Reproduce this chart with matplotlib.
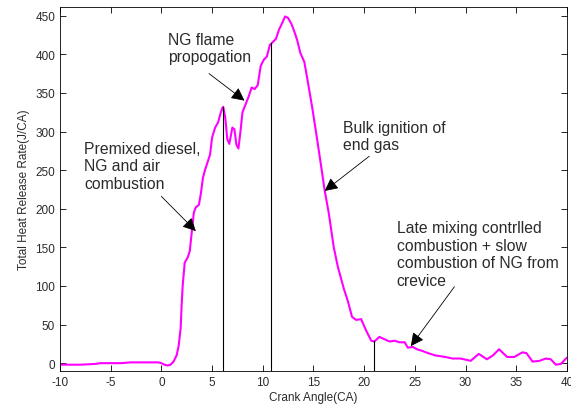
import numpy as np
import matplotlib.pyplot as plt

plt.rcParams['font.family'] = ['Liberation Sans', 'DejaVu Sans']
plt.rcParams['axes.unicode_minus'] = False

# crank angle (deg) and total heat release rate (J/CA)
crank = [-10, -8, -6.5, -6, -4, -3, -1, -0.3, 0, 0.3, 0.6, 0.9, 1.2, 1.5, 1.7, 1.9, 2.0, 2.1, 2.3,
         2.6, 2.8, 3.0, 3.2, 3.4, 3.7, 3.9, 4.1, 4.3, 4.6, 4.8, 5.0, 5.3, 5.6, 5.8, 6.0, 6.1,
         6.3, 6.5, 6.7, 6.9, 7.0, 7.2, 7.4, 7.6, 7.8, 8.0, 8.3, 8.6, 8.9, 9.2, 9.5, 9.8, 10.1,
         10.4, 10.7, 11.0, 11.3, 11.6, 11.9, 12.2, 12.5, 12.8, 13.1, 13.4, 13.7, 14.1, 14.5,
         14.9, 15.3, 15.7, 16.1, 16.5, 17.0, 17.4, 18.0, 18.4, 18.8, 19.2, 19.7, 20.2, 20.7,
         21.0, 21.5, 22.0, 22.5, 23.0, 23.5, 24.0, 24.3, 24.8, 25.2, 25.7, 26.3, 27.0, 28.0,
         28.7, 29.5, 30.5, 31.3, 32.1, 32.7, 33.3, 34.1, 34.8, 35.6, 36.0, 36.6, 37.3, 37.9,
         38.4, 38.9, 39.4, 39.9, 40.0]
hrr = [-2, -2, -1, 0, 0, 1, 1, 1, 0, -2, -3, -2, 2, 10, 22, 45, 75, 100, 130,
       137, 145, 170, 195, 202, 205, 220, 240, 250, 262, 270, 292, 305, 312, 322, 330, 332,
       318, 290, 284, 298, 305, 303, 283, 278, 300, 325, 335, 345, 357, 355, 360, 385, 393,
       397, 412, 416, 420, 432, 440, 449, 447, 440, 430, 418, 402, 390, 360,
       329, 295, 260, 224, 195, 150, 125, 96, 80, 60, 56, 57, 42, 29,
       28, 34, 31, 28, 29, 27, 27, 20, 21, 18, 16, 13, 10, 8,
       6, 6, 3, 12, 5, 10, 18, 8, 8, 14, 13, 2, 3, 6,
       5, -2, -1, 6, 7]

# vertical marker lines (crank angle, height)
marker_x = [6.1, 10.8, 21.0]
marker_top = [332, 414, 29]

txt = '#2b2b2b'

fig = plt.figure(figsize=(5.71, 4.10), dpi=100)
ax = fig.add_axes([0.105, 0.093, 0.888, 0.887])
ax.plot(crank, hrr, color='#ff00ff', lw=1.5)
for mx, mt in zip(marker_x, marker_top):
    ax.plot([mx, mx], [-10, mt], color='black', lw=0.8)

ax.set_xlim(-10, 40)
ax.set_ylim(-10, 461)
ax.set_xticks(np.arange(-10, 41, 5))
ax.set_yticks(np.arange(0, 451, 50))
ax.tick_params(direction='in', top=True, right=True, labelsize=8.5, length=4, width=0.6,
               labelcolor=txt)
for s in ax.spines.values():
    s.set_linewidth(0.6)
ax.set_xlabel("Crank Angle(CA)", fontsize=8.5, labelpad=2, color=txt)
ax.set_ylabel("Total Heat Release Rate(J/CA)", fontsize=8.5, labelpad=4, color=txt)

arrow = dict(arrowstyle='-|>', color='black', lw=0.6, mutation_scale=20, shrinkA=0, shrinkB=0)
fs = 11.3
ls = 1.2
ax.annotate("NG flame\npropogation", xy=(8.2, 340), xytext=(0.7, 429), fontsize=fs,
            ha='left', va='top', linespacing=ls, color=txt)
ax.annotate("", xy=(8.2, 340), xytext=(4.7, 375), arrowprops=arrow)
ax.annotate("Premixed diesel,\nNG and air\ncombustion", xy=(3.4, 171), xytext=(-7.6, 288),
            fontsize=fs, ha='left', va='top', linespacing=ls, color=txt)
ax.annotate("", xy=(3.4, 171), xytext=(0.0, 216), arrowprops=arrow)
ax.annotate("Bulk ignition of\nend gas", xy=(16.1, 223), xytext=(17.9, 315), fontsize=fs,
            ha='left', va='top', linespacing=ls, color=txt)
ax.annotate("", xy=(16.1, 223), xytext=(20.5, 268), arrowprops=arrow)
ax.annotate("Late mixing contrlled\ncombustion + slow\ncombustion of NG from\ncrevice",
            xy=(24.6, 22), xytext=(23.2, 185), fontsize=fs, ha='left', va='top',
            linespacing=ls, color=txt)
ax.annotate("", xy=(24.6, 22), xytext=(28.9, 99), arrowprops=arrow)

plt.savefig("out.png", dpi=100)
plt.close()
